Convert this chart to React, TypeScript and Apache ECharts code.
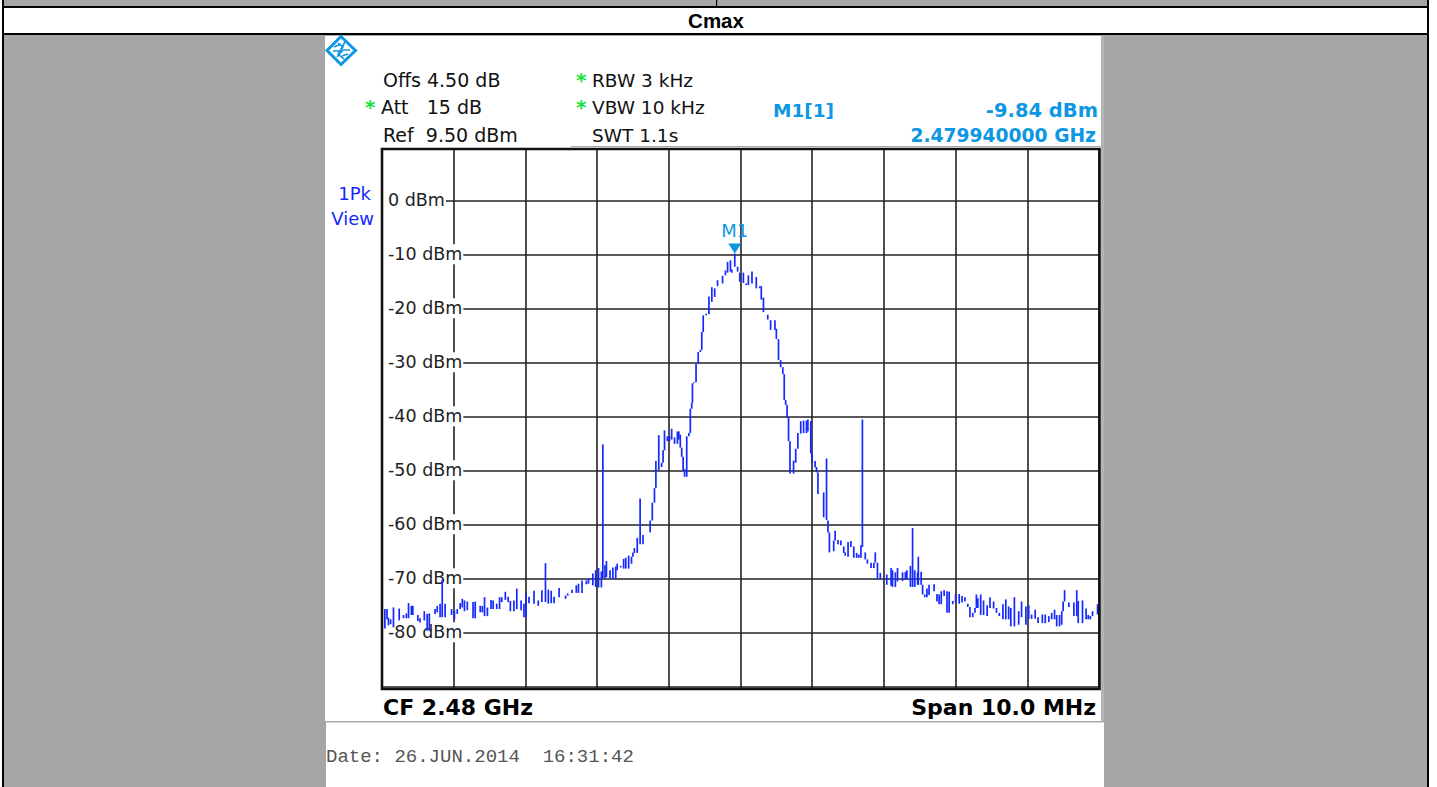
import React, { useEffect, useRef } from "react";
import * as echarts from "echarts";

const title = "Cmax";
const levelTicks = [0, -10, -20, -30, -40, -50, -60, -70, -80, -90];
const labelledTicks = [0, -10, -20, -30, -40, -50, -60, -70, -80];
const markerOffset = 4.92;
const markerLevel = -9.84;

// Sweep columns: offset from 2475 MHz, and the top / bottom of each trace stroke in dBm.
const traceOffset = [
  0.04,0.07,0.09,0.12,0.16,0.24,0.30,0.34,0.37,0.41,0.43,0.50,0.53,0.59,0.63,0.66,0.74,0.77,0.81,0.84,0.88,0.97,
  1.01,1.05,1.09,1.12,1.15,1.19,1.27,1.30,1.37,1.40,1.43,1.47,1.52,1.55,1.60,1.64,1.67,1.72,1.76,1.79,1.84,1.88,1.94,1.98,
  2.01,2.05,2.12,2.18,2.23,2.28,2.32,2.36,2.40,2.47,2.56,2.59,2.65,2.71,2.74,2.79,2.85,2.88,2.94,2.98,
  3.02,3.06,3.08,3.11,3.13,3.18,3.22,3.26,3.28,3.33,3.37,3.40,3.44,3.48,3.50,3.52,3.56,3.60,3.64,3.74,3.77,3.80,3.82,3.86,3.90,3.92,3.94,3.98,
  4.01,4.04,4.08,4.12,4.14,4.16,4.18,4.20,4.22,4.25,4.28,4.30,4.32,4.33,4.35,4.38,4.41,4.44,4.46,4.48,4.52,4.56,4.60,4.64,4.68,4.75,4.79,4.82,4.86,4.88,4.92,4.96,4.99,
  5.04,5.08,5.11,5.16,5.22,5.27,5.29,5.32,5.38,5.42,5.48,5.50,5.53,5.56,5.59,5.61,5.63,5.65,5.67,5.69,5.74,5.77,5.80,5.84,5.88,5.92,5.94,5.98,
  6.00,6.04,6.06,6.08,6.16,6.20,6.22,6.24,6.30,6.32,6.36,6.40,6.44,6.46,6.50,6.54,6.58,6.62,6.65,6.68,6.70,6.74,6.77,6.82,6.86,6.88,6.91,6.95,
  7.04,7.10,7.12,7.16,7.19,7.26,7.30,7.32,7.37,7.40,7.43,7.47,7.48,7.52,7.54,7.57,7.60,7.63,7.70,7.74,7.77,7.80,7.84,7.88,7.91,7.96,
  8.00,8.05,8.09,8.13,8.17,8.20,8.24,8.27,8.29,8.31,8.35,8.39,8.44,8.48,8.53,8.57,8.61,8.66,8.70,8.74,8.77,8.82,8.88,8.92,8.98,
  9.02,9.06,9.11,9.15,9.21,9.25,9.30,9.34,9.38,9.41,9.45,9.48,9.50,9.52,9.58,9.65,9.69,9.71,9.77,9.82,9.85,9.88,9.91,9.98,
];
const traceHigh = [
  -75.7,-75.7,-77.3,-77.6,-75.4,-75.6,-76.8,-76.5,-74.6,-75.1,-75.1,-76.8,-77.4,-76.1,-76.6,-76.5,-75.7,-75.1,-74.7,-70.3,-74.7,-75.7,
  -76,-75.7,-74.6,-73.8,-74.1,-74.3,-74.4,-74.3,-75.1,-75.1,-73.5,-75.4,-74,-74.1,-74.7,-73.5,-73.5,-72.5,-73.4,-74.2,-74.1,-71.9,-74.1,-74.7,
  -72.7,-73.4,-72.3,-74.1,-72.2,-67.2,-72.1,-72.3,-73.4,-71.8,-73.2,-72.8,-72.1,-71.3,-71,-70.4,-70.4,-70,-69.1,-68.5,
  -68.1,-68.7,-45.2,-67.6,-66.8,-68.5,-68,-67.8,-67.3,-67.7,-66.4,-66.2,-65.8,-66,-65.2,-64.4,-62.5,-55.2,-62,-59.3,-56,-53.3,-48.3,-43.5,-48.6,-46.3,-42.6,-43.7,
  -43.7,-42.3,-43.9,-42.8,-42.8,-43.4,-45.8,-47.5,-49.8,-43.7,-43.1,-38.6,-37.5,-33.9,-33.7,-30.3,-28.1,-27.7,-24.4,-21.3,-21,-17.8,-16.1,-16.3,-14.8,-14,-13,-11.4,-11.1,-12.8,-9.84,-12.3,-13.4,
  -13.4,-15.4,-13.9,-13.2,-14.2,-15.9,-15.9,-18,-21.2,-22.2,-22.2,-23.8,-25.7,-29.6,-30.9,-32.2,-37,-37.9,-40.2,-44.6,-48.2,-46,-43.1,-40.9,-40.8,-40.8,-40.6,-40.9,
  -46.9,-48.3,-49.4,-50.4,-54.1,-47.8,-59.3,-61.5,-63,-61.2,-62.9,-63,-64.1,-65.2,-63.3,-63.1,-64.1,-65.3,-65.6,-63.9,-40.6,-65.2,-66.5,-67.1,-67.1,-65.2,-67.1,-69,
  -69.3,-68.1,-68.5,-68.9,-68.1,-68.9,-68.8,-68.5,-67.7,-60.7,-68.5,-68.9,-66,-68.8,-71.2,-73,-71.9,-71.2,-71.1,-72.9,-73,-72.4,-72.2,-72.4,-72.5,-74.2,
  -73,-72.9,-73.3,-73.5,-74.7,-75.3,-76.4,-75.5,-73,-73.7,-73,-74.1,-75,-73.5,-74.3,-75.5,-76.4,-74.8,-73.9,-75.2,-75.5,-73.5,-76.1,-74.3,-75.2,
  -75,-76.7,-75.8,-77.2,-76.7,-76.7,-77,-76.4,-75.8,-76.8,-76.8,-76.1,-74.3,-72.2,-74.5,-74.5,-72.2,-74.2,-74.1,-75.6,-76.8,-77,-76.1,-74.8,
];
const traceLow = [
  -79.3,-77.6,-78.7,-78.5,-79.1,-77.8,-77.4,-77.4,-77.4,-76.8,-76.8,-77.9,-78.2,-77.8,-79.7,-79.7,-76.6,-76.3,-77.2,-77.2,-77.2,-76.8,
  -77.6,-76.6,-75.7,-75.4,-76.1,-75.9,-77.4,-77.4,-76.3,-76.3,-77,-77,-75.7,-75.7,-75.7,-75.7,-74.4,-74,-74.4,-76.1,-76.1,-75.7,-75.9,-77.2,
  -77.2,-74.6,-74.7,-75.1,-74.4,-74.4,-74.7,-74.6,-74.6,-73.5,-73.8,-73.2,-72.7,-72.7,-72.7,-72.7,-71.1,-71,-71.3,-71.6,
  -71.7,-71.7,-70,-70,-69.8,-70,-70.1,-70.1,-68.5,-68,-68.2,-68.2,-68.2,-67.3,-66,-65.3,-65.3,-63.7,-63.7,-61.5,-59.3,-56,-53.3,-50,-49.4,-48.6,-46.3,-44.6,
  -44.6,-44.3,-45.1,-45.1,-44.3,-45.8,-47.5,-50,-51.2,-51.2,-43.7,-43.1,-38.6,-37.5,-33.9,-33.7,-30.3,-28.1,-27.7,-24.4,-21.3,-21.1,-18.8,-17.9,-15.9,-15.4,-13.9,-13.4,-13.2,-13.4,-12.3,-13.2,-15.1,
  -15.3,-15.7,-15.7,-15.4,-16.3,-16.3,-18.4,-20.7,-22.1,-24,-24,-25.7,-29.6,-30.9,-32.2,-37,-37.9,-40.2,-44.6,-50.6,-50.6,-48.6,-46,-43.2,-43.1,-43.1,-42.8,-46.9,
  -48.6,-49.5,-50.4,-54.4,-58.7,-59.2,-61.5,-65.2,-65,-63,-63.7,-63.9,-65.3,-65.8,-66,-64.2,-66.2,-66.2,-66.2,-66.2,-64.2,-66.5,-67.3,-68.1,-68.1,-67.1,-70.2,-70.2,
  -71.2,-71.4,-71.6,-71.6,-70.6,-70.5,-70.2,-70.2,-71.6,-71.6,-71.6,-71.2,-71.2,-71.2,-73,-73.5,-73.5,-73.1,-72.4,-74.3,-74.8,-74.8,-73.3,-76.4,-76.4,-74.8,
  -74.5,-74.7,-74.5,-74.3,-75.3,-77.2,-77.2,-76.4,-75.5,-75.5,-76.8,-76.8,-77,-75.5,-75.6,-76.4,-77,-77.6,-77.6,-77.6,-78.9,-78.9,-78.6,-77.2,-78.6,
  -77.5,-77.5,-77.5,-78.3,-78.3,-78.3,-78.1,-77.6,-77.6,-78.9,-78.9,-78.6,-76.1,-74.3,-75.3,-77,-77,-78.3,-78.3,-77.6,-77.6,-77.6,-77,-76.7,
];

const BLUE = "#1428ff";
const CYAN = "#0d97e2";
const GREEN = "#14e13c";
const GRAY = "#a6a6a6";
const SANS = "DejaVu Sans";

function txt(text: string, x: number, y: number, fontSize: number, fill = "#111", extra: any = {}) {
  return { type: "text", x, y, z: 5, style: { text, x: 0, y: 0, fontSize, fontFamily: SANS, fill, textVerticalAlign: "middle", verticalAlign: "middle", ...extra } };
}
function box(x: number, y: number, width: number, height: number, fill: string, z = 0) {
  return { type: "rect", z, silent: true, shape: { x, y, width, height }, style: { fill } };
}
function seg(points: number[][], lineWidth = 1.6) {
  return { type: "polyline", z: 6, shape: { points }, style: { fill: "none", stroke: CYAN, lineWidth } };
}

export default function App() {
  const ref = useRef<HTMLDivElement>(null);
  useEffect(() => {
    document.body.style.margin = "0";
    const chart = echarts.init(ref.current!, undefined, { renderer: "svg" });
    const tracePoints = traceOffset.map((f, i) => [f, traceHigh[i], traceLow[i]]);
    chart.setOption({
      animation: false,
      backgroundColor: "#fff",
      grid: { left: 382, top: 149, width: 717, height: 540, show: false, containLabel: false },
      xAxis: {
        type: "value", min: 0, max: 10, interval: 1,
        axisLabel: { show: false }, axisTick: { show: false },
        axisLine: { show: false },
        splitLine: { show: true, lineStyle: { color: "#222", width: 1.6 } },
      },
      yAxis: {
        type: "value", min: -90.5, max: 9.5,
        axisLine: { show: false },
        axisTick: { show: false, customValues: levelTicks },
        splitLine: { show: true, lineStyle: { color: "#222", width: 1.6 } },
        axisLabel: {
          show: true, inside: true, customValues: labelledTicks, margin: 0,
          formatter: (v: number) => `${v} dBm`,
          fontFamily: SANS, fontSize: 17.5, color: "#222",
          backgroundColor: "#fff", padding: [1, 1, 1, 6], align: "left", showMinLabel: true, showMaxLabel: true,
        },
      },
      series: [
        {
          type: "custom", name: "1Pk View", coordinateSystem: "cartesian2d", z: 3, silent: true,
          encode: { x: 0, y: [1, 2] },
          clip: true,
          data: tracePoints,
          renderItem: (_p: any, api: any) => {
            const a = api.coord([api.value(0), api.value(1)]);
            const b = api.coord([api.value(0), api.value(2)]);
            return {
              type: "line",
              shape: { x1: a[0], y1: a[1], x2: b[0], y2: b[1] },
              style: { stroke: BLUE, lineWidth: 1.7, fill: "none" },
            };
          },
        },
        {
          type: "scatter", name: "M1", z: 4, silent: true,
          data: [[markerOffset, markerLevel]],
          symbol: "triangle", symbolRotate: 180, symbolSize: [13, 10], symbolOffset: [0, -5],
          itemStyle: { color: CYAN, opacity: 1 },
          label: { show: true, formatter: "M1", position: "top", distance: 4, fontFamily: SANS, fontSize: 18, color: CYAN },
        },
      ],
      graphic: [
        box(2, 0, 1427, 787, GRAY, -11),
        box(4, 8, 1423, 25, "#fff", -10),
        box(325, 36, 776, 685, "#fff", -10),
        box(1101, 36, 3, 685, "#b4b4b4", -9),
        box(326, 722, 778, 65, "#fff", -10),
        box(326, 721, 778, 1.5, "#aaaaaa", -9),
        box(2, 6, 1427, 2, "#000", -8),
        box(2, 33, 1427, 2, "#000", -8),
        box(2, 0, 2, 787, "#000", -8),
        box(1427, 0, 2, 787, "#000", -8),
        box(716, 0, 1.2, 7, "#000", -8),
        box(571, 146, 530, 1, "#aaaaaa", -8),
        // frame of the diagram
        { type: "rect", z: 4, silent: true, shape: { x: 382, y: 149, width: 717.5, height: 540 }, style: { fill: "none", stroke: "#111", lineWidth: 2.6 } },
        // logo
        { type: "polygon", z: 6, shape: { points: [[341, 36.5], [355.5, 50.5], [341, 64.5], [327, 50.5]] }, style: { fill: "#fff", stroke: CYAN, lineWidth: 3 } },
        seg([[333, 51], [340, 51], [345, 42]]),
        seg([[337, 57], [343, 50], [350, 50]]),
        seg([[338, 43], [343, 47], [338, 54], [344, 59]]),
        seg([[334, 47], [341, 44]]),
        seg([[342, 56], [348, 54]]),
        txt(title, 716, 20, 20.5, "#000", { fontFamily: "Liberation Sans", fontWeight: "bold", align: "center", textAlign: "center" }),
        txt("Offs 4.50 dB", 383, 80, 19),
        txt("*", 365, 107, 20, GREEN, { fontWeight: "bold" }),
        txt("Att   15 dB", 381, 107, 19),
        txt("Ref  9.50 dBm", 383, 135, 19),
        txt("*", 576, 80, 20, GREEN, { fontWeight: "bold" }),
        txt("RBW 3 kHz", 592, 80, 18.5),
        txt("*", 576, 107, 20, GREEN, { fontWeight: "bold" }),
        txt("VBW 10 kHz", 592, 107, 18.5),
        txt("SWT 1.1s", 592, 135, 18.5),
        txt("M1[1]", 773, 110, 18.5, CYAN, { fontWeight: "bold" }),
        txt("-9.84 dBm", 1098, 110, 19.5, CYAN, { fontWeight: "bold", align: "right", textAlign: "right" }),
        txt("2.479940000 GHz", 1096, 135, 18.7, CYAN, { fontWeight: "bold", align: "right", textAlign: "right" }),
        txt("1Pk", 371, 193, 18, BLUE, { align: "right", textAlign: "right" }),
        txt("View", 374, 218, 18, BLUE, { align: "right", textAlign: "right" }),
        txt("CF 2.48 GHz", 383, 707, 22, "#000", { fontWeight: "bold" }),
        txt("Span 10.0 MHz", 1096, 707, 22, "#000", { fontWeight: "bold", align: "right", textAlign: "right" }),
        txt("Date: 26.JUN.2014  16:31:42", 326, 757, 19, "#555", { fontFamily: "Liberation Mono" }),
      ],
    });
    return () => chart.dispose();
  }, []);
  return <div ref={ref} style={{ position: "fixed", left: 0, top: 0, width: 1437, height: 787 }} />;
}
